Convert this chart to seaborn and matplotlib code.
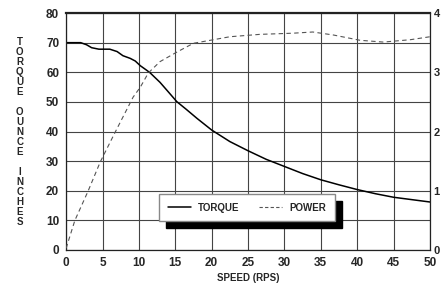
import matplotlib
matplotlib.use("Agg")
import matplotlib.pyplot as plt
from matplotlib.lines import Line2D
import numpy as np
import seaborn as sns

# speed (RPS) vs torque (oz-in)
torque_speed = [0, 1, 2, 2.8, 3.5, 4.5, 6, 7, 7.8, 8.8, 9.5, 10.2, 11, 11.5, 12.9,
                14, 15.2, 16.5, 18, 20, 22.5, 25, 27.5, 30, 32.5, 35, 37.5,
                40, 42.5, 45, 47.5, 50]
torque = [70, 70, 70, 69.3, 68.3, 67.8, 67.8, 67.0, 65.6, 64.7, 63.8, 62.2, 60.8,
          59.9, 56.6, 53.5, 50.1, 47.5, 44.4, 40.5, 36.6, 33.5, 30.6, 28.2,
          25.8, 23.7, 22.0, 20.4, 19.0, 17.8, 17.0, 16.2]

# speed (RPS) vs power (right axis units)
power_speed = [0, 1.2, 3.0, 4.7, 6.7, 9.2, 10.2, 11.3, 12.9, 15.2, 17.5, 19.8,
               22.5, 26.6, 31.2, 33.9, 36.7, 40.4, 43.6, 47.3, 50]
power = [0.03, 0.50, 0.99, 1.49, 1.98, 2.58, 2.75, 2.99, 3.18, 3.34, 3.49, 3.54,
         3.60, 3.64, 3.66, 3.68, 3.63, 3.54, 3.51, 3.55, 3.60]

x_ticks = [0, 5, 10, 15, 20, 25, 30, 35, 40, 45, 50]
y_ticks = [0, 10, 20, 30, 40, 50, 60, 70, 80]
right_ticks = [0, 1, 2, 3, 4]
right_labels = ["0", "1", "2", "3", "4"]

sns.set_style("white")
plt.rcParams["font.family"] = ["Liberation Sans", "DejaVu Sans"]
plt.rcParams["font.weight"] = "bold"

fig = plt.figure(figsize=(4.41, 2.90), dpi=100)
ax = fig.add_axes([0.150, 0.138, 0.825, 0.817])

sns.lineplot(x=torque_speed, y=torque, ax=ax, color="black", linewidth=1.1)
ax.set_xlim(0, 50)
ax.set_ylim(0, 80)
ax.set_xticks(x_ticks)
ax.set_yticks(y_ticks)
ax.grid(True, color="#444444", linewidth=0.8)
ax.tick_params(axis="both", length=0, labelsize=8.5, pad=5)
for s in ax.spines.values():
    s.set_color("#222222")
    s.set_linewidth(0.9)
ax.spines["top"].set_linewidth(1.6)

ax2 = ax.twinx()
sns.lineplot(x=power_speed, y=power, ax=ax2, color="#555555", linewidth=0.8,
             linestyle=(0, (4, 3)))
ax2.set_ylim(0, 4)
ax2.set_yticks(right_ticks)
ax2.set_yticklabels(right_labels)
ax2.tick_params(axis="y", length=0, labelsize=8, pad=2.5)
ax2.grid(False)
for s in ax2.spines.values():
    s.set_visible(False)

ax.set_xlabel("SPEED (RPS)", fontsize=7, fontweight="bold", labelpad=3)
ax.set_ylabel("")
ax2.set_ylabel("")

fig.text(0.045, 0.545, "T\nO\nR\nQ\nU\nE\n\nO\nU\nN\nC\nE\n\nI\nN\nC\nH\nE\nS",
         fontsize=7, fontweight="bold", ha="center", va="center",
         linespacing=1.0)

handles = [Line2D([], [], color="black", linewidth=1.1),
           Line2D([], [], color="#555555", linewidth=0.8, linestyle=(0, (3, 2)))]
leg = ax.legend(handles, ["TORQUE", "POWER"], ncol=2, loc="lower left",
                bbox_to_anchor=(0.243, 0.10), frameon=True, fancybox=False,
                shadow={"color": "black", "alpha": 1, "ox": 5, "oy": -5},
                fontsize=7, handlelength=2.3, columnspacing=2.0,
                borderpad=0.9, framealpha=1, edgecolor="#888888")
leg.set_zorder(5)

fig.savefig("out.png", dpi=100)
